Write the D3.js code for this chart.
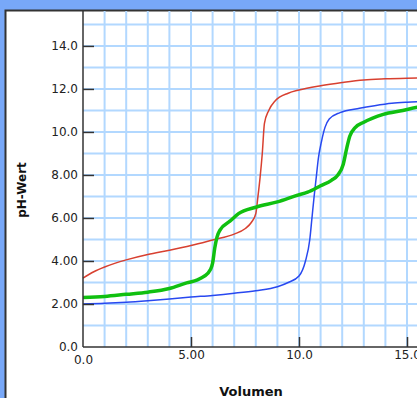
<!DOCTYPE html>
<html>
<head>
<meta charset="utf-8">
<script src="https://cdn.jsdelivr.net/npm/d3@7"></script>
<style>
  html, body { margin: 0; padding: 0; overflow: hidden; background: #78a8f8; }
  svg { display: block; font-family: "DejaVu Sans", sans-serif; }
</style>
</head>
<body>
<div id="container"></div>
<script>
// titration curves (Volumen vs pH-Wert)
const redVol  = [0, 0.5, 1, 1.5, 2, 3, 4, 5, 6, 7, 7.5, 7.8, 8.0, 8.1, 8.2, 8.3, 8.4, 8.6, 8.9, 9.5, 10, 11, 12, 13, 14, 15, 16];
const redPH   = [3.2, 3.5, 3.72, 3.9, 4.05, 4.3, 4.5, 4.72, 4.98, 5.25, 5.5, 5.8, 6.2, 7.0, 7.9, 9.0, 10.4, 11.0, 11.45, 11.8, 11.95, 12.15, 12.3, 12.42, 12.47, 12.5, 12.52];
const blueVol = [0, 1, 2, 3, 4, 5, 6, 7, 8, 9, 9.5, 10, 10.3, 10.5, 10.6, 10.7, 10.8, 10.9, 11.05, 11.2, 11.4, 11.9, 12.8, 13.5, 14.3, 15, 16];
const bluePH  = [2.0, 2.03, 2.08, 2.15, 2.23, 2.32, 2.4, 2.5, 2.62, 2.8, 3.0, 3.3, 4.0, 5.0, 6.0, 7.0, 7.9, 8.8, 9.6, 10.2, 10.6, 10.9, 11.1, 11.22, 11.33, 11.38, 11.42];
const greenVol = [0, 1, 2, 3, 4, 4.8, 5.3, 5.6, 5.9, 6.0, 6.1, 6.2, 6.35, 6.8, 7.2, 8.0, 9.0, 9.9, 10.4, 11, 11.5, 11.8, 12.05, 12.2, 12.35, 12.6, 13, 13.9, 14.8, 15.5, 16];
const greenPH  = [2.3, 2.35, 2.45, 2.55, 2.72, 2.98, 3.12, 3.28, 3.6, 3.9, 4.6, 5.1, 5.45, 5.85, 6.2, 6.5, 6.75, 7.05, 7.2, 7.5, 7.75, 8.0, 8.5, 9.2, 9.8, 10.2, 10.45, 10.82, 11.0, 11.15, 11.2];

const yTicks = [0, 2, 4, 6, 8, 10, 12, 14];
const yTickLabels = ["0.0", "2.00", "4.00", "6.00", "8.00", "10.0", "12.0", "14.0"];
const xTicks = [0, 5, 10, 15];
const xTickLabels = ["0.0", "5.00", "10.0", "15.0"];

const W = 417, H = 398;
const svg = d3.select("#container").append("svg").attr("width", W).attr("height", H);

// white panel with dark edge
svg.append("rect").attr("x", 5).attr("y", 10).attr("width", W).attr("height", H).attr("fill", "#fff");
svg.append("path").attr("d", `M5.5,${H} V10.5 H${W}`).attr("fill", "none").attr("stroke", "#333").attr("stroke-width", 2);

const x = d3.scaleLinear().domain([0, 15.5]).range([83, 417.8]);
const y = d3.scaleLinear().domain([0, 15.67]).range([347, 10]);

// grid
const grid = svg.append("g").attr("stroke", "#b2d8ff").attr("stroke-width", 2);
grid.selectAll("line.v").data(d3.range(1, 16)).enter().append("line")
    .attr("x1", d => x(d)).attr("x2", d => x(d)).attr("y1", y(0)).attr("y2", 11);
grid.selectAll("line.h").data(d3.range(1, 16)).enter().append("line")
    .attr("x1", x(0)).attr("x2", W).attr("y1", d => y(d)).attr("y2", d => y(d));

// curves
const line = (xs, ys) => d3.line().x((d, i) => x(xs[i])).y((d, i) => y(ys[i])).curve(d3.curveMonotoneX)(xs);
svg.append("path").attr("d", line(redVol, redPH)).attr("fill", "none").attr("stroke", "#d84030").attr("stroke-width", 1.5);
svg.append("path").attr("d", line(blueVol, bluePH)).attr("fill", "none").attr("stroke", "#2848f0").attr("stroke-width", 1.5);
svg.append("path").attr("d", line(greenVol, greenPH)).attr("fill", "none").attr("stroke", "#10c010").attr("stroke-width", 3.5);

// axes
const yAxis = svg.append("g").attr("transform", `translate(${x(0)},0)`)
    .call(d3.axisLeft(y).tickValues(yTicks).tickFormat((d, i) => yTickLabels[i]).tickSizeInner(-11).tickSizeOuter(0).tickPadding(5));
yAxis.select(".domain").attr("d", `M0,${y(0)}V10`);

const xAxis = svg.append("g").attr("transform", `translate(0,${y(0)})`)
    .call(d3.axisBottom(x).tickValues(xTicks).tickFormat((d, i) => xTickLabels[i]).tickSizeInner(-10).tickSizeOuter(0).tickPadding(3));
xAxis.select(".domain").attr("d", `M${x(0)},0H${W}`);

svg.selectAll(".domain").attr("stroke", "#333").attr("stroke-width", 1.5);
svg.selectAll(".tick line").attr("stroke", "#333").attr("stroke-width", 1.5);
svg.selectAll(".tick text").attr("font-size", 12).attr("font-family", "DejaVu Sans, sans-serif").attr("fill", "#222");
xAxis.selectAll(".tick").filter(d => d === 0).select("line").remove();
xAxis.selectAll(".tick").filter(d => d === 0).select("text").attr("y", 8);
yAxis.selectAll(".tick").filter(d => d === 0).select("line").remove();

// axis titles
svg.append("text").attr("x", 251).attr("y", 396).attr("text-anchor", "middle")
    .attr("font-size", 13).attr("font-weight", "bold").attr("fill", "#111").text("Volumen");
svg.append("text").attr("transform", "translate(26,190) rotate(-90)").attr("text-anchor", "middle")
    .attr("font-size", 12).attr("font-weight", "bold").attr("fill", "#111").text("pH-Wert");
</script>
</body>
</html>
